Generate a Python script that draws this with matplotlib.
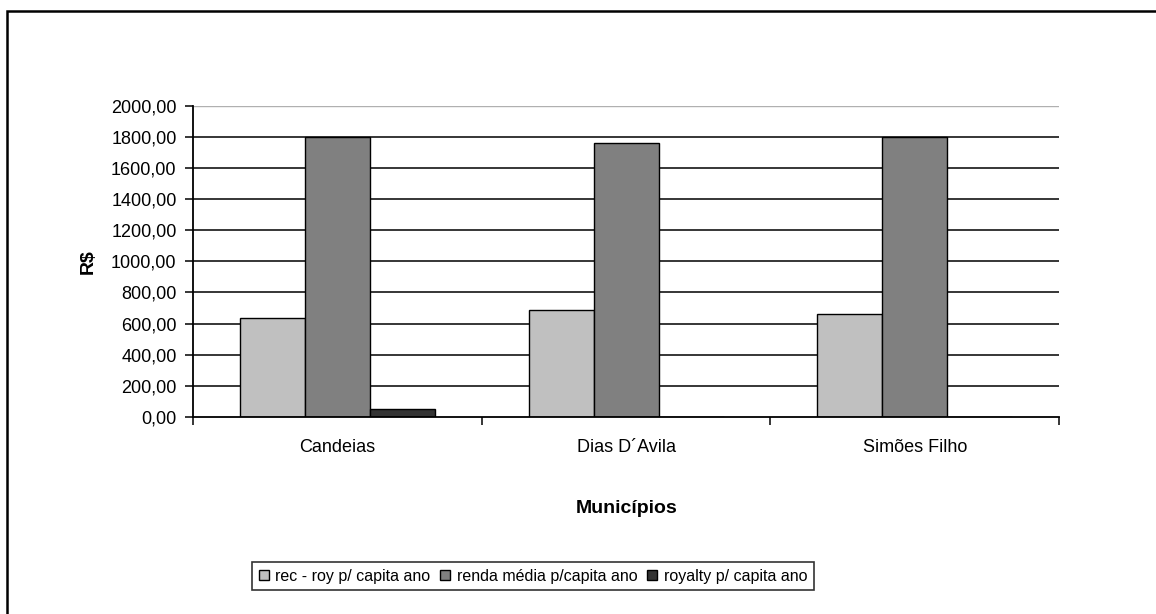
import matplotlib.pyplot as plt
import numpy as np
from matplotlib.patches import Rectangle
from matplotlib.ticker import FuncFormatter

plt.rcParams['font.family'] = ['Liberation Sans', 'DejaVu Sans']
plt.rcParams['font.size'] = 13

municipios = ['Candeias', 'Dias D´Avila', 'Simões Filho']
rec_roy = [638, 689, 664]
renda_media = [1800, 1758, 1800]
royalty = [50, 0, 0]

series = [
    ('rec - roy p/ capita ano', rec_roy, '#c0c0c0'),
    ('renda média p/capita ano', renda_media, '#808080'),
    ('royalty p/ capita ano', royalty, '#333333'),
]

fig = plt.figure(figsize=(11.56, 6.14), dpi=100)
ax = fig.add_axes([0.1672, 0.3208, 0.7489, 0.5071])

# outer chart frame (only left/top edges fall inside the image)
fig.patches.append(Rectangle((7 / 1156, -0.1), 1.2, 1 - 11 / 614 + 0.1,
                             transform=fig.transFigure, fill=False,
                             edgecolor='black', linewidth=1.8, zorder=0))

x = np.arange(len(municipios))
width = 0.225
for i, (label, vals, color) in enumerate(series):
    ax.bar(x + (i - 1) * width, vals, width, color=color, edgecolor='black',
           linewidth=1.0, label=label, zorder=3)

ax.set_xlim(-0.5, 2.5)
ax.set_ylim(0, 2000)
ax.set_yticks(np.arange(0, 2001, 200))
ax.yaxis.set_major_formatter(FuncFormatter(lambda v, p: f'{v:.2f}'.replace('.', ',')))

# horizontal gridlines; the top one is lighter
for v in np.arange(200, 1801, 200):
    ax.axhline(v, color='black', linewidth=1.1, zorder=1)
ax.axhline(2000, color='#b0b0b0', linewidth=1.0, zorder=1)

# category boundaries carry the ticks, labels sit between them
ax.set_xticks([-0.5, 0.5, 1.5, 2.5])
ax.set_xticklabels([])
ax.set_xticks(x, minor=True)
ax.set_xticklabels(municipios, minor=True)
ax.tick_params(axis='x', which='minor', length=0, pad=16)
ax.tick_params(axis='x', which='major', length=6, width=1.1, direction='out')
ax.tick_params(axis='y', length=6, width=1.1, direction='out', pad=6)

for side in ('top', 'right'):
    ax.spines[side].set_visible(False)
for side in ('left', 'bottom'):
    ax.spines[side].set_linewidth(1.3)
    ax.spines[side].set_zorder(4)

ax.set_ylabel('R$', fontweight='bold', fontsize=14)
ax.yaxis.set_label_coords(-0.112, 0.5)
ax.set_xlabel('Municípios', fontweight='bold', fontsize=14)
ax.xaxis.set_label_coords(0.5, -0.268)

leg = fig.legend(loc='center', bbox_to_anchor=(533 / 1156, 1 - 576 / 614), ncol=3,
                 frameon=True, fancybox=False, handlelength=0.65,
                 handleheight=0.65, handletextpad=0.4, columnspacing=0.6,
                 borderpad=0.4, borderaxespad=0, fontsize=11.5)
leg.get_frame().set_edgecolor('black')
leg.get_frame().set_linewidth(1.2)

fig.savefig('out.png', dpi=100)
